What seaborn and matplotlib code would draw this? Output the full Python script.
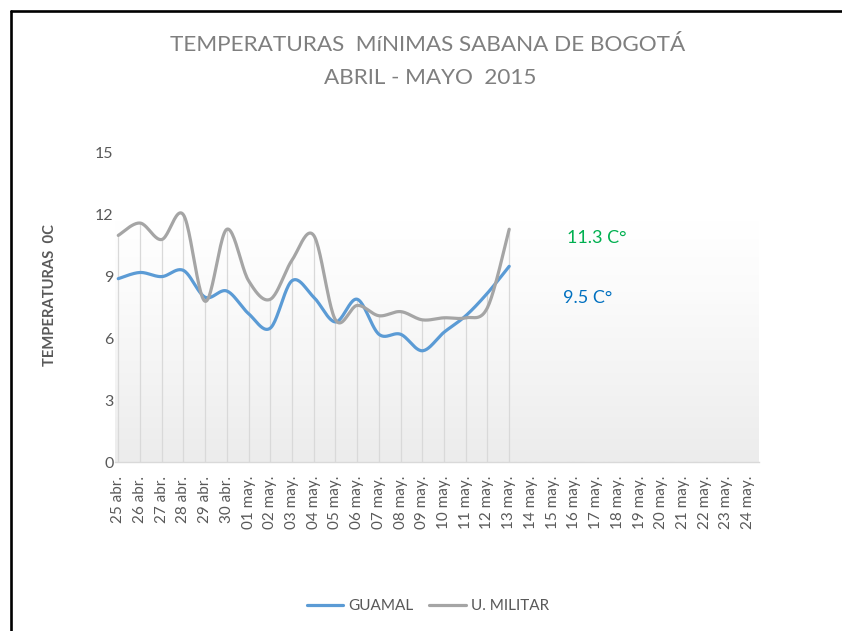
import numpy as np
import pandas as pd
import matplotlib
matplotlib.use("Agg")
import matplotlib.pyplot as plt
import seaborn as sns
from matplotlib.lines import Line2D

# ---------------- data ----------------
categories = ["25 abr.", "26 abr.", "27 abr.", "28 abr.", "29 abr.", "30 abr.",
              "01 may.", "02 may.", "03 may.", "04 may.", "05 may.", "06 may.",
              "07 may.", "08 may.", "09 may.", "10 may.", "11 may.", "12 may.",
              "13 may.", "14 may.", "15 may.", "16 may.", "17 may.", "18 may.",
              "19 may.", "20 may.", "21 may.", "22 may.", "23 may.", "24 may."]
guamal = [8.9, 9.2, 9.0, 9.3, 8.0, 8.3, 7.2, 6.5, 8.8, 8.0, 6.8, 7.9,
          6.2, 6.2, 5.4, 6.3, 7.1, 8.2, 9.5]
militar = [11.0, 11.6, 10.8, 12.0, 7.8, 11.3, 8.8, 7.9, 9.8, 11.0, 6.9, 7.6,
           7.1, 7.3, 6.9, 7.0, 7.0, 7.5, 11.3]
series_names = ["GUAMAL", "U. MILITAR"]
y_ticks = [0, 3, 6, 9, 12, 15]

BLUE = "#5b9bd5"
GRAY = "#a5a5a5"
TXT = "#595959"

sns.set_theme(style="white")
plt.rcParams["font.family"] = ["Lato", "DejaVu Sans"]


def smooth(xs, ys, n=24):
    """Bezier smoothing like a spreadsheet 'smoothed line' (Catmull-Rom)."""
    xs = np.asarray(xs, float)
    ys = np.asarray(ys, float)
    px = np.concatenate([[xs[0]], xs, [xs[-1]]])
    py = np.concatenate([[ys[0]], ys, [ys[-1]]])
    outx, outy = [], []
    t = np.linspace(0, 1, n, endpoint=False)
    for i in range(1, len(px) - 2):
        p0 = np.array([px[i], py[i]])
        p3 = np.array([px[i + 1], py[i + 1]])
        c1 = p0 + (np.array([px[i + 1], py[i + 1]]) - np.array([px[i - 1], py[i - 1]])) / 6
        c2 = p3 - (np.array([px[i + 2], py[i + 2]]) - np.array([px[i], py[i]])) / 6
        b = ((1 - t) ** 3)[:, None] * p0 + (3 * (1 - t) ** 2 * t)[:, None] * c1 \
            + (3 * (1 - t) * t ** 2)[:, None] * c2 + (t ** 3)[:, None] * p3
        outx.extend(b[:, 0]); outy.extend(b[:, 1])
    outx.append(xs[-1]); outy.append(ys[-1])
    return np.array(outx), np.array(outy)


W, H = 842, 631
fig = plt.figure(figsize=(W / 100, H / 100), dpi=100)
fig.patch.set_facecolor("white")
ax = fig.add_axes([115 / W, 1 - 462 / H, (759 - 115) / W, (462 - 153) / H])

xmin, xmax = -0.15, len(categories) - 0.5
ax.set_xlim(xmin, xmax)
ax.set_ylim(0, 15)

# gradient plot-area fill
grad = np.linspace(0, 1, 256)[:, None]
cmap = matplotlib.colors.LinearSegmentedColormap.from_list(
    "g", [(0, "#ececec"), (0.25, "#f3f3f3"), (0.55, "#fbfbfb"), (0.78, "#ffffff"), (1, "#ffffff")])
ax.imshow(grad, aspect="auto", cmap=cmap, origin="lower",
          extent=[xmin, xmax, 0, 15], zorder=0)

idx = np.arange(len(guamal))
# drop lines
tops = np.maximum(guamal, militar)
ax.vlines(idx, 0, tops, colors="#d9d9d9", linewidth=0.9, zorder=1)

rows = []
for name, vals in zip(series_names, [guamal, militar]):
    sx, sy = smooth(idx, vals)
    rows.append(pd.DataFrame({"x": sx, "y": sy, "serie": name}))
df = pd.concat(rows, ignore_index=True)
sns.lineplot(data=df, x="x", y="y", hue="serie", palette=[BLUE, GRAY],
             estimator=None, sort=False, linewidth=2.3, ax=ax, legend=False,
             zorder=3)

for s in ["top", "right", "left"]:
    ax.spines[s].set_visible(False)
ax.spines["bottom"].set_color("#d9d9d9")
ax.spines["bottom"].set_linewidth(1.0)
ax.grid(False)

ax.set_yticks(y_ticks)
ax.set_yticklabels([str(v) for v in y_ticks])
ax.set_xticks(np.arange(len(categories)))
ax.set_xticklabels(categories, rotation=90)
ax.tick_params(axis="y", length=0, pad=1, labelsize=11.5, labelcolor=TXT)
ax.tick_params(axis="x", length=0, pad=10, labelsize=11, labelcolor=TXT)
ax.set_xlabel("")
ax.set_ylabel("")

# annotations for final values
ax.text(20.66, 10.87, f"{militar[-1]} C°", color="#00b050", fontsize=13,
        ha="left", va="center", zorder=4)
ax.text(20.47, 7.96, f"{guamal[-1]} C°", color="#0070c0", fontsize=13,
        ha="left", va="center", zorder=4)

# titles
fig.text(428 / W, 1 - 45 / H, "TEMPERATURAS  MíNIMAS SABANA DE BOGOTÁ",
         ha="center", va="center", fontsize=16.2, color="#7f7f7f")
fig.text(430 / W, 1 - 78 / H, "ABRIL - MAYO  2015",
         ha="center", va="center", fontsize=16.2, color="#7f7f7f")
fig.text(50 / W, 1 - 295 / H, "TEMPERATURAS  0C", rotation=90,
         ha="center", va="center", fontsize=10.6, fontweight="bold", color=TXT)

# legend
handles = [Line2D([], [], color=BLUE, linewidth=2.3),
           Line2D([], [], color=GRAY, linewidth=2.3)]
leg = fig.legend(handles, series_names, loc="center",
                 bbox_to_anchor=(428 / W, 1 - 606 / H), ncol=2, frameon=False,
                 fontsize=11, handlelength=2.4, handletextpad=0.35,
                 columnspacing=1.0)
for t in leg.get_texts():
    t.set_color(TXT)

# outer frame (left and top edges)
fig.add_artist(Line2D([11 / W, 11 / W], [0, 1 - 11 / H], color="black",
                      linewidth=1.9, transform=fig.transFigure))
fig.add_artist(Line2D([11 / W, 1], [1 - 11 / H, 1 - 11 / H], color="black",
                      linewidth=1.9, transform=fig.transFigure))

fig.savefig("out.png", dpi=100, facecolor="white")
